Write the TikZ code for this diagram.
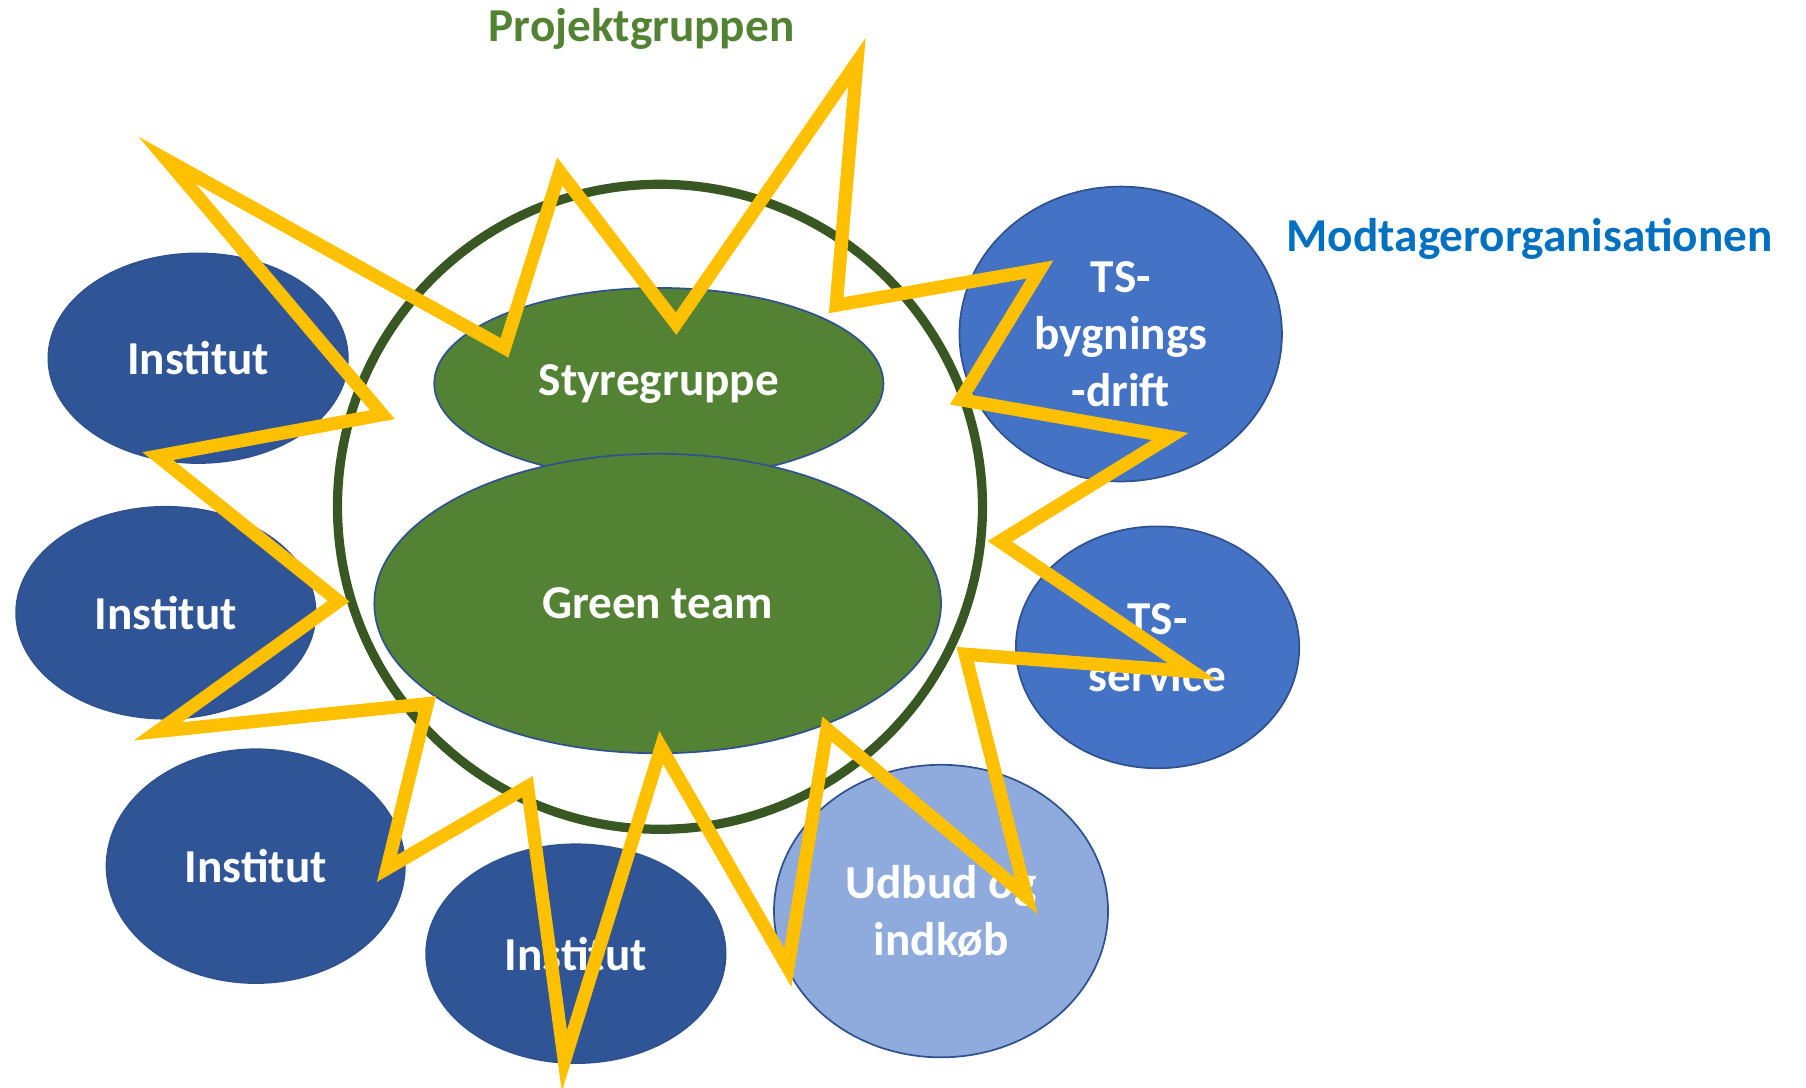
\documentclass[tikz,border=0pt]{standalone}
\usepackage{fontspec}
\setmainfont{Carlito}
\usetikzlibrary{shapes.geometric}
\definecolor{ringgreen}{HTML}{385723}
\definecolor{fillgreen}{HTML}{548235}
\definecolor{edgeblue}{HTML}{2F528F}
\definecolor{instblue}{HTML}{2F5597}
\definecolor{tsblue}{HTML}{4472C4}
\definecolor{lightblue}{HTML}{8FAADC}
\definecolor{titleblue}{HTML}{0070C0}
\definecolor{staryellow}{HTML}{FFC000}
\tikzset{
  blob/.style={ellipse, draw=edgeblue, line width=1.5pt, inner sep=0pt, outer sep=0pt,
    text=white, align=center, font=\fontsize{41}{49.5}\selectfont\bfseries},
  inst/.style={blob, fill=instblue},
  ts/.style={blob, fill=tsblue},
  light/.style={blob, fill=lightblue},
  grn/.style={blob, fill=fillgreen},
  ringstyle/.style={circle, draw=ringgreen, line width=8pt, inner sep=0pt},
  heading/.style={font=\fontsize{41}{49.5}\selectfont\bfseries, inner sep=0pt},
  starline/.style={draw=staryellow, line width=11.5pt, line join=miter, miter limit=30}
}
\begin{document}
\begin{tikzpicture}[x=1pt, y=-1pt]
\useasboundingbox (0,0) rectangle (1568,944);
% outer ellipses
\node[inst, minimum width=260pt, minimum height=182pt] (i1) at (172,311) {Institut};
\node[inst, minimum width=260pt, minimum height=184pt] (i2) at (144,532) {Institut};
\node[inst, minimum width=259pt, minimum height=203pt] (i3) at (222,752) {Institut};
\node[inst, minimum width=260pt, minimum height=190pt] (i4) at (500,828) {Institut};
\node[ts, minimum width=280pt, minimum height=256pt] (tsb) at (973,290) {TS-\\bygnings\\-drift};
\node[ts, minimum width=246pt, minimum height=210pt] (tss) at (1005,562) {TS-\\service};
\node[light, minimum width=290pt, minimum height=254pt] (udb) at (817,791) {Udbud og\\indkøb};
% ring
\node[ringstyle, minimum size=560pt] (ring) at (573,440) {};
% green ellipses
\node[grn, minimum width=390pt, minimum height=166pt] (sty) at (572,333) {\raisebox{-4pt}{Styregruppe}};
\node[grn, minimum width=492pt, minimum height=260pt] (gt) at (571,524) {Green team};
% headings
\node[heading, text=fillgreen] (pg) at (557,25) {Projektgruppen};
\node[heading, text=titleblue] (mo) at (1328,207) {Modtagerorganisationen};
% star
\draw[starline] (145,139) -- (438,302) -- (486,149) -- (587,281) -- (744,54) -- (726,265)
  -- (903,234) -- (834,347) -- (1016,379) -- (868,470) -- (1035,583) -- (838,568)
  -- (891,778) -- (718,633) -- (684,840) -- (574,649) -- (490,921) -- (458,683)
  -- (336,754) -- (371,611) -- (137,635) -- (294,522) -- (137,396) -- (332,360) -- cycle;
\end{tikzpicture}
\end{document}
